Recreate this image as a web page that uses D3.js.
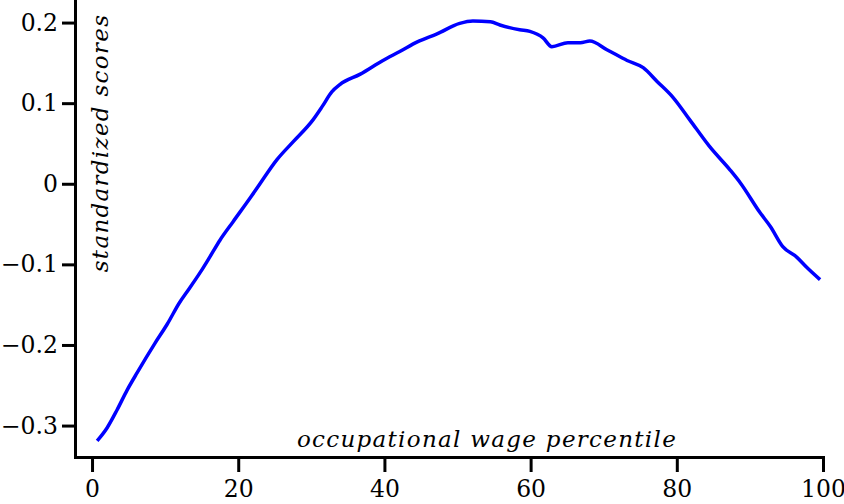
<!doctype html>
<html lang=en>
<head>
  <meta charset=utf-8>
  <title>standardized scores by occupational wage percentile</title>
  <style>
    html, body { margin: 0; padding: 0; background: #fff; }
    svg { display: block; font-family: "DejaVu Serif", serif; }
    .axis path, .axis line { stroke: #000; stroke-width: 3; }
    .axis text { font-size: 23.5px; fill: #000; font-family: "DejaVu Serif", serif; }
    .label { font-style: italic; font-size: 23px; letter-spacing: 1.3px; }
    path.curve { fill: none; stroke: #0000ff; stroke-width: 3.5; stroke-linejoin: round; }
  </style>
  <script src="https://cdn.jsdelivr.net/npm/d3@7"></script>
</head>
<body>
<svg id=chart width=844 height=504></svg>
<script>
  const width = 844
  const height = 504

  // wage percentile -> standardized score
  const percentile = [0.7, 2.05, 3.4, 4.8, 6.2, 8.6, 10.3, 12.0, 13.0, 14.8, 16.1, 17.5, 19.3,
    21.6, 22.6, 25.3, 27.5, 30.2, 31.5, 32.8, 33.9, 36.7, 39.8, 42.1, 44.5, 47.2, 50.3, 52.1,
    54.5, 55.8, 58.5, 59.9, 61.7, 62.9, 65.1, 66.8, 68.1, 70.5, 73.2, 75.4, 77.3, 79.5, 81.8,
    84.5, 87.3, 88.7, 91.4, 92.8, 94.5, 96.4, 97.8, 99.6]
  const score = [-0.319, -0.303, -0.281, -0.256, -0.234, -0.198, -0.174, -0.147, -0.134,
    -0.110, -0.091, -0.070, -0.047, -0.018, -0.005, 0.030, 0.052, 0.079, 0.096, 0.114, 0.123,
    0.136, 0.153, 0.164, 0.176, 0.186, 0.199, 0.202, 0.201, 0.197, 0.191, 0.189, 0.181, 0.170,
    0.175, 0.175, 0.177, 0.166, 0.153, 0.144, 0.127, 0.107, 0.079, 0.046, 0.017, 0.001, -0.036,
    -0.053, -0.078, -0.091, -0.104, -0.119]

  const xTicks = [0, 20, 40, 60, 80, 100]
  const yTicks = [-0.3, -0.2, -0.1, 0, 0.1, 0.2]

  const svg = d3.select('#chart')

  const x = d3.scaleLinear()
    .domain([-2.33, 100])
    .range([75, 823])
  const y = d3.scaleLinear()
    .domain([-0.339, 0.228])
    .range([457, 0])

  svg.append('g')
    .attr('class', 'axis')
    .attr('transform', 'translate(0,' + 457 + ')')
    .call(d3.axisBottom(x)
      .tickValues(xTicks)
      .tickSize(15)
      .tickSizeOuter(0)
      .tickPadding(8)
      .tickFormat(d3.format('d')))

  svg.append('g')
    .attr('class', 'axis')
    .attr('transform', 'translate(' + 75 + ',0)')
    .call(d3.axisLeft(y)
      .tickValues(yTicks)
      .tickSize(13)
      .tickSizeOuter(0)
      .tickPadding(4)
      .tickFormat(d => d === 0 ? '0' : d3.format('.1f')(d)))

  svg.selectAll('.axis path.domain').attr('stroke-linecap', 'square')

  const points = percentile.map((p, i) => [p, score[i]])

  svg.append('path')
    .attr('class', 'curve')
    .datum(points)
    .attr('d', d3.line()
      .x(d => x(d[0]))
      .y(d => y(d[1]))
      .curve(d3.curveMonotoneX))

  svg.append('text')
    .attr('class', 'label')
    .attr('x', 487)
    .attr('y', 447)
    .attr('text-anchor', 'middle')
    .text('occupational wage percentile')

  svg.append('text')
    .attr('class', 'label')
    .attr('transform', 'translate(108,143) rotate(-90)')
    .attr('text-anchor', 'middle')
    .text('standardized scores')
</script>
</body>
</html>
